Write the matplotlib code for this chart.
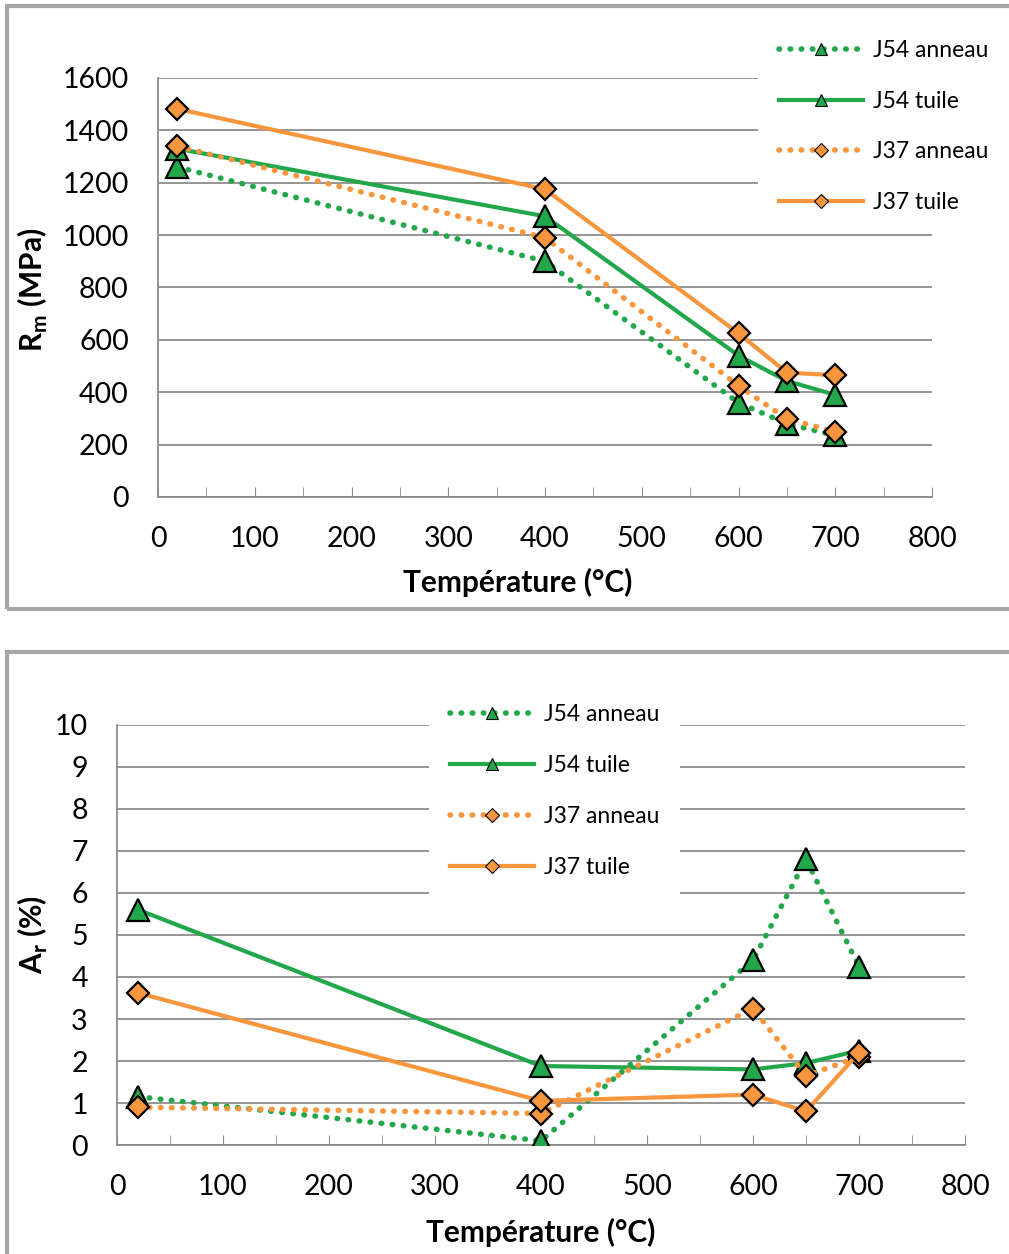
import matplotlib.pyplot as plt
from matplotlib.lines import Line2D
from matplotlib.patches import Rectangle
from matplotlib.ticker import MultipleLocator

plt.rcParams['font.family'] = ['Lato', 'DejaVu Sans']

# Temperatures (°C)
temps = [20, 400, 600, 650, 700]

# Rm (MPa)
rm_j54_anneau = [1260, 900, 360, 280, 235]
rm_j54_tuile = [1330, 1072, 540, 443, 390]
rm_j37_anneau = [1340, 990, 425, 298, 250]
rm_j37_tuile = [1482, 1175, 625, 475, 465]

# Ar (%)
ar_j54_anneau = [1.15, 0.1, 4.4, 6.8, 4.25]
ar_j54_tuile = [5.6, 1.88, 1.8, 1.95, 2.25]
ar_j37_anneau = [0.9, 0.75, 3.25, 1.65, 2.1]
ar_j37_tuile = [3.62, 1.05, 1.2, 0.8, 2.2]

labels = ['J54 anneau', 'J54 tuile', 'J37 anneau', 'J37 tuile']

green = '#22a84b'
orange = '#f7963c'
grid_c = '#8c8c8c'
dotted = (0, (0.1, 1.9))

W, H = 1009, 1254
fig = plt.figure(figsize=(W / 100, H / 100), dpi=100)

# panel borders
fig.patches.append(Rectangle((7 / W, 1 - 609 / H), 1.1, 603 / H, transform=fig.transFigure,
                             fill=False, edgecolor='#a6a6a6', linewidth=3))
fig.patches.append(Rectangle((7 / W, -0.05), 1.1, 0.05 + (1254 - 652) / H, transform=fig.transFigure,
                             fill=False, edgecolor='#a6a6a6', linewidth=3))

styles = [
    dict(color=green, ls=dotted, lw=4, marker='^', ms=16),
    dict(color=green, ls='-', lw=3, marker='^', ms=16),
    dict(color=orange, ls=dotted, lw=4, marker='D', ms=11.5),
    dict(color=orange, ls='-', lw=3, marker='D', ms=11.5),
]


def draw(ax, series, ymax, ystep, ylabel, leg_x, leg_y):
    for vals, st in zip(series, styles):
        ax.plot(temps, vals, color=st['color'], linestyle=st['ls'], linewidth=st['lw'],
                dash_capstyle='round', marker=st['marker'], markersize=st['ms'],
                markerfacecolor=st['color'], markeredgecolor='black',
                markeredgewidth=1.6, zorder=3)
    ax.set_xlim(0, 800)
    ax.set_ylim(0, ymax)
    ax.xaxis.set_major_locator(MultipleLocator(100))
    ax.xaxis.set_minor_locator(MultipleLocator(50))
    ax.yaxis.set_major_locator(MultipleLocator(ystep))
    ax.grid(axis='y', color=grid_c, linewidth=1.3)
    ax.set_axisbelow(True)
    for s in ['top', 'right']:
        ax.spines[s].set_visible(False)
    for s in ['left', 'bottom']:
        ax.spines[s].set_color(grid_c)
        ax.spines[s].set_linewidth(1.3)
    ax.tick_params(axis='x', which='both', direction='in', length=7, color=grid_c,
                   labelsize=20.5, pad=21)
    ax.tick_params(axis='y', length=0, labelsize=20.5, pad=21)
    ax.set_xlabel('Température (°C)', fontsize=21.5, fontweight='bold')
    ax.set_ylabel(ylabel, fontsize=21.5, fontweight='bold')

    handles = [Line2D([], [], color=st['color'], linestyle=st['ls'], linewidth=st['lw'],
                      dash_capstyle='round', marker=st['marker'],
                      markersize=9 if st['marker'] == '^' else 7,
                      markerfacecolor=st['color'], markeredgecolor='black',
                      markeredgewidth=0.8) for st in styles]
    leg = ax.legend(handles, labels, loc='center left', bbox_to_anchor=(leg_x, leg_y),
                    bbox_transform=fig.transFigure, fontsize=16.5, frameon=True,
                    facecolor='white', edgecolor='none', framealpha=1,
                    borderpad=0.9, borderaxespad=0, labelspacing=1.3,
                    handlelength=3.7, handletextpad=0.4, fancybox=False)
    leg.set_zorder(5)
    return ax


ax1 = fig.add_axes([158 / W, 1 - 497 / H, 774 / W, 419 / H])
draw(ax1, [rm_j54_anneau, rm_j54_tuile, rm_j37_anneau, rm_j37_tuile], 1600, 200,
     r'R$_\mathregular{m}$ (MPa)', 758 / W, 1 - 126.5 / H)
ax1.xaxis.set_label_coords(0.465, -0.169)
ax1.xaxis.label.set_va('top')
ax1.yaxis.set_label_coords(-0.1395, 0.494)

ax2 = fig.add_axes([117 / W, 1 - 1145 / H, 848 / W, 420 / H])
draw(ax2, [ar_j54_anneau, ar_j54_tuile, ar_j37_anneau, ar_j37_tuile], 10, 1,
     r'A$_\mathregular{r}$ (%)', 429 / W, 1 - 791 / H)
ax2.xaxis.set_label_coords(0.5, -0.174)
ax2.xaxis.label.set_va('top')
ax2.yaxis.set_label_coords(-0.079, 0.5)

fig.savefig('out.png', dpi=100)
